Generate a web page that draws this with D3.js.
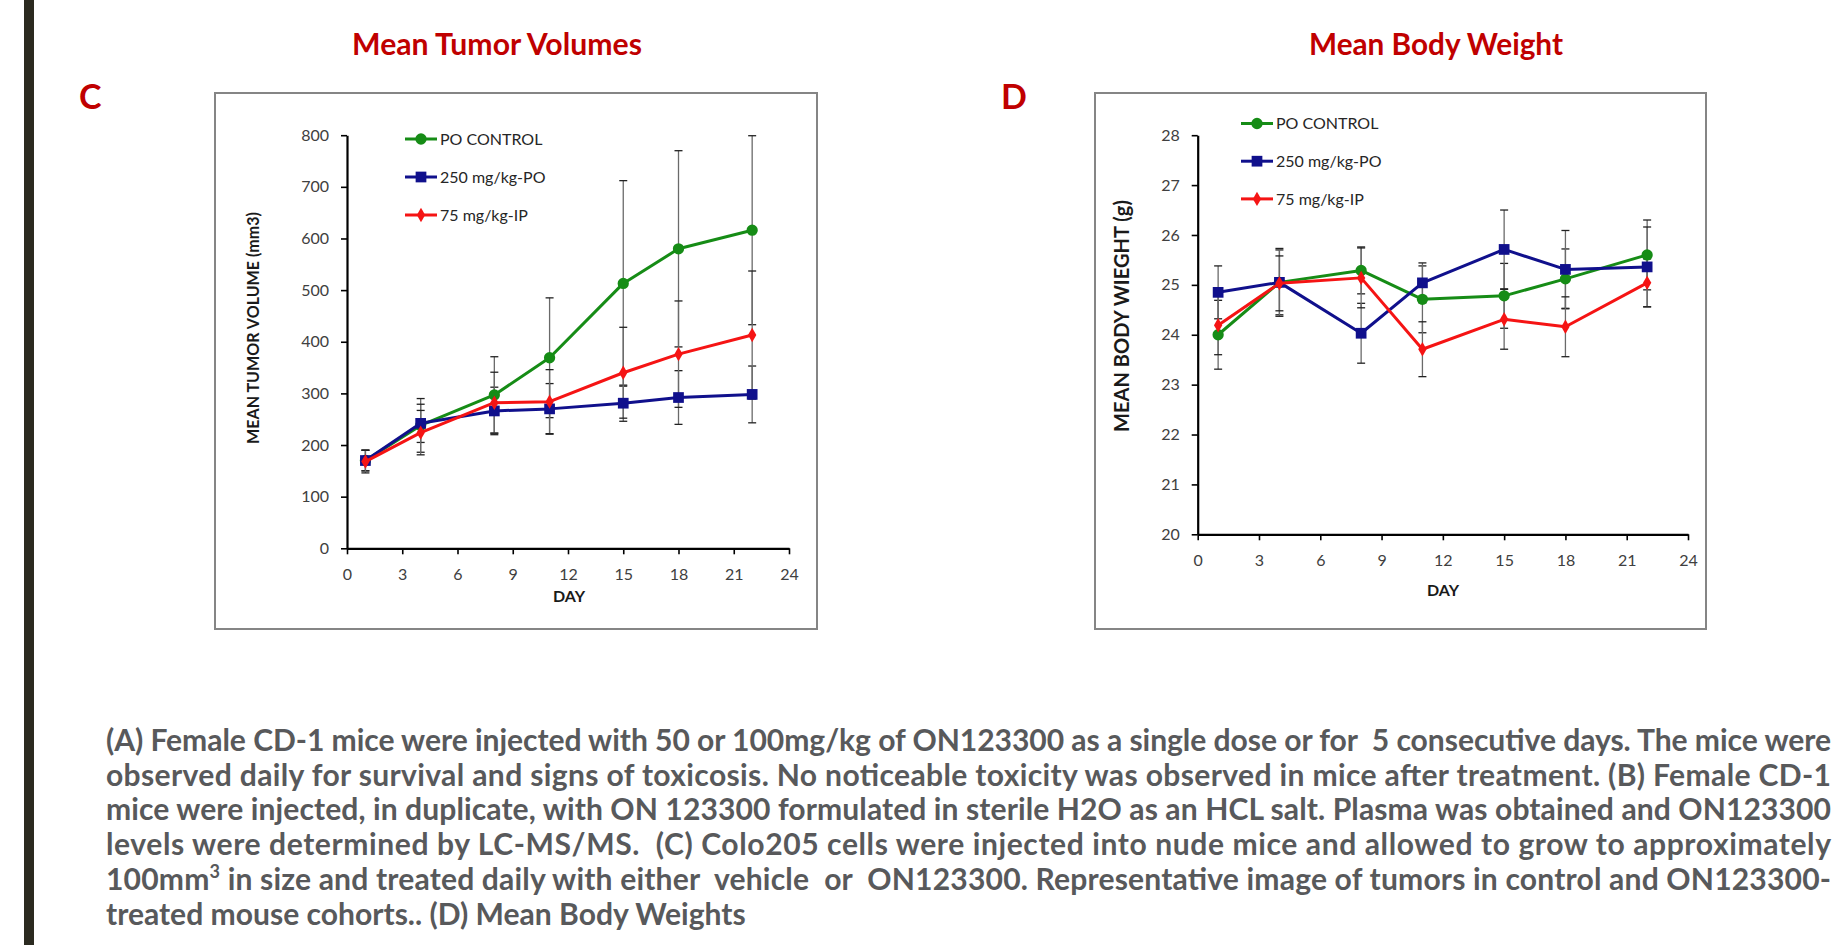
<!DOCTYPE html>
<html>
<head>
<meta charset="utf-8">
<script src="https://d3js.org/d3.v7.min.js"></script>
<style>
  body { margin: 0; background: #fff; }
  svg { display: block; }
</style>
</head>
<body>
<svg id="fig"></svg>
<script>
// ---- data ----
var days = [1, 4, 8, 11, 15, 18, 22];
var seriesNames = ["PO CONTROL", "250 mg/kg-PO", "75 mg/kg-IP"];

var tumorControl    = [170, 238, 297, 369, 513, 580, 616];
var tumorControlErr = [20, 52, 74, 116, 199, 190, 183];
var tumor250        = [170, 242, 266, 270, 281, 292, 298];
var tumor250Err     = [20, 37, 46, 49, 35, 52, 55];
var tumor75         = [168, 224, 282, 284, 340, 376, 413];
var tumor75Err      = [22, 43, 59, 62, 88, 103, 124];

var bwControl    = [24.00, 25.05, 25.29, 24.71, 24.78, 25.12, 25.60];
var bwControlErr = [0.69, 0.65, 0.47, 0.67, 0.65, 0.60, 0.70];
var bw250        = [24.85, 25.05, 24.03, 25.04, 25.71, 25.31, 25.36];
var bw250Err     = [0.53, 0.68, 0.60, 0.40, 0.79, 0.78, 0.80];
var bw75         = [24.19, 25.03, 25.14, 23.71, 24.31, 24.16, 25.04];
var bw75Err      = [0.59, 0.55, 0.60, 0.55, 0.60, 0.60, 0.48];

var xTicks = [0, 3, 6, 9, 12, 15, 18, 21, 24];
var tumorTicks = [0, 100, 200, 300, 400, 500, 600, 700, 800];
var bwTicks = [20, 21, 22, 23, 24, 25, 26, 27, 28];

var captionLines = [
  "(A) Female CD-1 mice were injected with 50 or 100mg/kg of ON123300 as a single dose or for  5 consecutive days. The mice were",
  "observed daily for survival and signs of toxicosis. No noticeable toxicity was observed in mice after treatment. (B) Female CD-1",
  "mice were injected, in duplicate, with ON 123300 formulated in sterile H2O as an HCL salt. Plasma was obtained and ON123300",
  "levels were determined by LC-MS/MS.  (C) Colo205 cells were injected into nude mice and allowed to grow to approximately",
  "100mm|3| in size and treated daily with either  vehicle  or  ON123300. Representative image of tumors in control and ON123300-",
  "treated mouse cohorts.. (D) Mean Body Weights"
];

var colors = ["#168c16", "#10108c", "#f51414"];
var shapes = [d3.symbolCircle, d3.symbolSquare, d3.symbolDiamond];
var shapeSize = [100, 115, 60];

var W = 1843, H = 945;
var svg = d3.select("#fig").attr("width", W).attr("height", H)
            .style("font-family", "Lato, 'Open Sans', sans-serif");

// dark bar on the left edge
svg.append("rect").attr("x", 24).attr("y", 0).attr("width", 10).attr("height", H)
   .attr("fill", "#2b2a20");

// pick a font size so that a text comes out at a given width
function fitSize(txt, base, target, weight) {
  var p = svg.append("text").style("font-size", base + "px").style("font-weight", weight).text(txt);
  var s = base * target / p.node().getComputedTextLength();
  p.remove();
  return s;
}

function drawPanel(opt) {
  var xScale = d3.scaleLinear().domain([0, 24]).range([opt.x0, opt.x1]);
  var yScale = d3.scaleLinear().domain(opt.yDomain).range([opt.y0, opt.y1]);

  // frame
  svg.append("rect").attr("x", opt.box[0]).attr("y", opt.box[1])
     .attr("width", opt.box[2] - opt.box[0]).attr("height", opt.box[3] - opt.box[1])
     .attr("fill", "none").attr("stroke", "#858585").attr("stroke-width", 2);

  // titles
  svg.append("text").attr("x", opt.titleX).attr("y", 55).attr("text-anchor", "middle")
     .attr("fill", "#c00000").style("font-weight", 700)
     .style("font-size", fitSize(opt.title, 26, opt.titleW, 700) + "px")
     .text(opt.title);
  svg.append("text").attr("x", opt.letterX).attr("y", 109)
     .attr("fill", "#c00000").style("font-weight", 700).style("font-size", "34px")
     .text(opt.letter);

  // axes
  var xAxis = d3.axisBottom(xScale).tickValues(xTicks).tickSize(6).tickSizeOuter(0).tickPadding(14);
  var gx = svg.append("g").attr("transform", "translate(0," + opt.y0 + ")").call(xAxis);
  var yAxis = d3.axisLeft(yScale).tickValues(opt.yTicks).tickSize(6).tickSizeOuter(0).tickPadding(12);
  var gy = svg.append("g").attr("transform", "translate(" + opt.x0 + ",0)").call(yAxis);
  [gx, gy].forEach(function (g) {
    g.select(".domain").attr("stroke", "#000").attr("stroke-width", 2.2);
    g.selectAll(".tick line").attr("stroke", "#000").attr("stroke-width", 1.6);
    g.selectAll(".tick text").attr("fill", "#404040").style("font-size", "16px")
     .style("font-family", "Lato, sans-serif");
  });

  svg.append("text").attr("x", opt.dayX).attr("y", opt.dayY).attr("text-anchor", "middle")
     .style("font-weight", 700).style("font-size", "16px").attr("fill", "#1a1a1a").text("DAY");
  svg.append("text")
     .attr("transform", "translate(" + opt.yTitleX + "," + opt.yTitleY + ") rotate(-90)")
     .attr("text-anchor", "middle").attr("dy", "0.35em")
     .style("font-weight", 700)
     .style("font-size", fitSize(opt.yTitle, 15, opt.yTitleW, 700) + "px")
     .attr("fill", "#1a1a1a")
     .text(opt.yTitle);

  // error bars
  opt.series.forEach(function (s) {
    var eb = svg.append("g");
    days.forEach(function (d, i) {
      var cx = xScale(d), hi = yScale(s.v[i] + s.e[i]), lo = yScale(s.v[i] - s.e[i]);
      eb.append("line").attr("x1", cx).attr("x2", cx).attr("y1", hi).attr("y2", lo)
        .attr("stroke", "#6a6a6a").attr("stroke-width", 1.3);
      [hi, lo].forEach(function (yy) {
        eb.append("line").attr("x1", cx - 4).attr("x2", cx + 4).attr("y1", yy).attr("y2", yy)
          .attr("stroke", "#222").attr("stroke-width", 1.3);
      });
    });
  });

  // lines + markers
  var line = d3.line().x(function (d) { return xScale(d[0]); }).y(function (d) { return yScale(d[1]); });
  opt.series.forEach(function (s, k) {
    var pts = days.map(function (d, i) { return [d, s.v[i]]; });
    svg.append("path").datum(pts).attr("d", line).attr("fill", "none")
       .attr("stroke", colors[k]).attr("stroke-width", 3).attr("stroke-linejoin", "round");
    svg.append("g").selectAll("path").data(pts).enter().append("path")
       .attr("transform", function (d) { return "translate(" + xScale(d[0]) + "," + yScale(d[1]) + ")"; })
       .attr("d", d3.symbol().type(shapes[k]).size(shapeSize[k]))
       .attr("fill", colors[k]);
  });

  // legend
  seriesNames.forEach(function (name, k) {
    var ly = opt.legY + k * opt.legStep;
    var lg = svg.append("g");
    lg.append("line").attr("x1", opt.legX).attr("x2", opt.legX + 32).attr("y1", ly).attr("y2", ly)
      .attr("stroke", colors[k]).attr("stroke-width", 3);
    lg.append("path").attr("transform", "translate(" + (opt.legX + 16) + "," + ly + ")")
      .attr("d", d3.symbol().type(shapes[k]).size(shapeSize[k])).attr("fill", colors[k]);
    lg.append("text").attr("x", opt.legX + 35).attr("y", ly).attr("dy", "0.35em")
      .style("font-size", "16px").attr("fill", "#262626").text(name);
  });
}

drawPanel({
  box: [215, 93, 817, 629], x0: 347, x1: 789, y0: 548.3, y1: 135.2,
  yDomain: [0, 800], yTicks: tumorTicks,
  title: "Mean Tumor Volumes", titleX: 497, titleW: 290, letter: "C", letterX: 79,
  dayX: 569, dayY: 602, yTitleX: 253, yTitleY: 328, yTitle: "MEAN TUMOR VOLUME (mm3)", yTitleW: 232,
  legX: 405, legY: 139, legStep: 38,
  series: [{ v: tumorControl, e: tumorControlErr }, { v: tumor250, e: tumor250Err }, { v: tumor75, e: tumor75Err }]
});

drawPanel({
  box: [1095, 93, 1706, 629], x0: 1197.7, x1: 1688, y0: 534.3, y1: 135.2,
  yDomain: [20, 28], yTicks: bwTicks,
  title: "Mean Body Weight", titleX: 1436, titleW: 254, letter: "D", letterX: 1001,
  dayX: 1443, dayY: 596, yTitleX: 1122, yTitleY: 316, yTitle: "MEAN BODY WIEGHT (g)", yTitleW: 232,
  legX: 1241, legY: 123.5, legStep: 37.7,
  series: [{ v: bwControl, e: bwControlErr }, { v: bw250, e: bw250Err }, { v: bw75, e: bw75Err }]
});

// caption: justified lines, font size fitted so the last line ends where the original does
var capLeft = 106, capRight = 1831, capTop = 751, capStep = 34.7;
var capSize = fitSize(captionLines[5], 24, 640, 700);
var cap = svg.append("g").style("font-weight", 700).attr("fill", "#58595b");
captionLines.forEach(function (ln, i) {
  var t = cap.append("text").attr("x", capLeft).attr("y", capTop + i * capStep)
             .style("font-size", capSize + "px").attr("xml:space", "preserve");
  ln.split("|").forEach(function (part, j) {
    var ts = t.append("tspan").text(part);
    if (j === 1) ts.style("font-size", (capSize * 0.6) + "px").attr("dy", -capSize * 0.38);
    if (j === 2) ts.attr("dy", capSize * 0.38);
  });
  if (i < captionLines.length - 1) {
    t.attr("textLength", capRight - capLeft).attr("lengthAdjust", "spacing");
  }
});
</script>
</body>
</html>
